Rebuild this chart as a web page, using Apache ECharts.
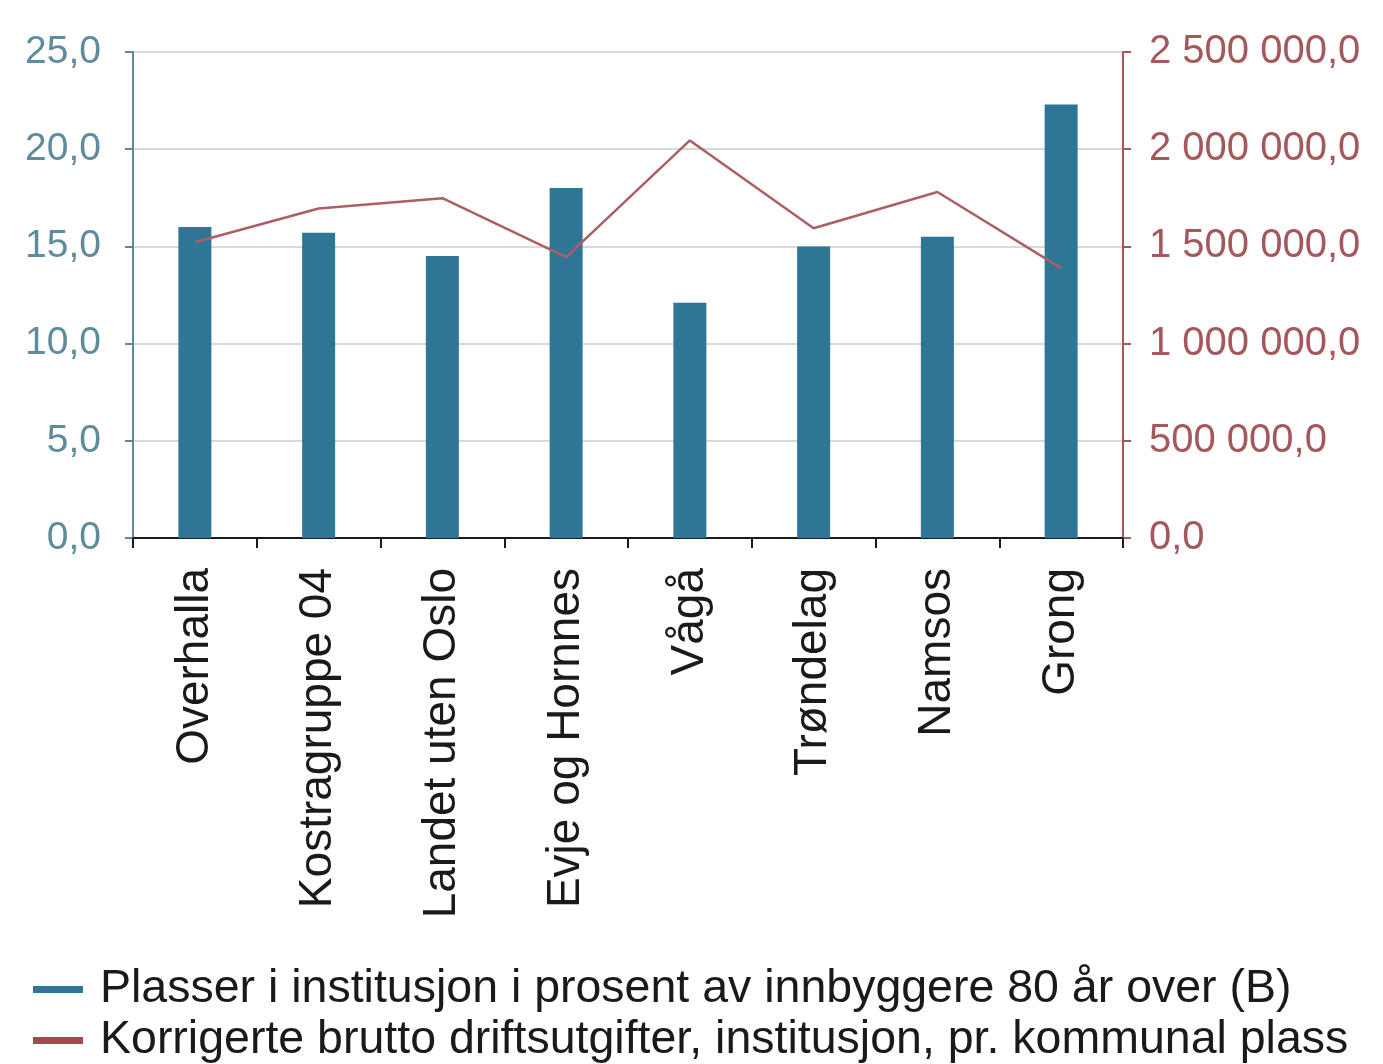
<!DOCTYPE html>
<html>
<head>
<meta charset="utf-8">
<script src="https://cdn.jsdelivr.net/npm/echarts@6/dist/echarts.min.js"></script>
<style>
html,body{margin:0;padding:0;background:#fff;}
#chart{width:1383px;height:1064px;}
</style>
</head>
<body>
<div id="chart"></div>
<script>
const categories = ['Overhalla','Kostragruppe 04','Landet uten Oslo','Evje og Hornnes','Vågå','Trøndelag','Namsos','Grong'];
const plasserValues = [16.0, 15.7, 14.5, 18.0, 12.1, 15.0, 15.5, 22.3];
const utgifterValues = [1521000, 1695000, 1748000, 1445000, 2045000, 1593000, 1780000, 1388000];
const seriesNames = ['Plasser i institusjon i prosent av innbyggere 80 år over (B)', 'Korrigerte brutto driftsutgifter, institusjon, pr. kommunal plass'];

function fmtLeft(v){ return v.toFixed(1).replace('.', ','); }
function fmtRight(v){
  const s = Math.round(v).toString().replace(/\B(?=(\d{3})+(?!\d))/g, ' ');
  return s + ',0';
}

const chart = echarts.init(document.getElementById('chart'), null, {renderer:'canvas'});
const font = 'Liberation Sans, Arial, sans-serif';
function legendAt(top, name, color){
  return {
    orient: 'horizontal',
    left: 28,
    top: top,
    itemWidth: 50,
    itemHeight: 7,
    icon: 'rect',
    textStyle: {fontSize: 46.5, color: '#1a1a1a', fontFamily: font, padding: [0,0,0,12]},
    data: [{name: name, itemStyle: {color: color}}]
  };
}
chart.setOption({
  animation: false,
  backgroundColor: '#ffffff',
  textStyle: {fontFamily: font},
  grid: {left: 133, right: 260, top: 52, bottom: 526, containLabel: false},
  legend: [
    legendAt(961, seriesNames[0], '#2E7596'),
    legendAt(1012, seriesNames[1], '#A4484C')
  ],
  xAxis: {
    type: 'category',
    data: categories,
    boundaryGap: true,
    axisLine: {lineStyle: {color: '#1a1a1a', width: 2}},
    axisTick: {show: true, length: 10, lineStyle: {color: '#1a1a1a', width: 2}},
    axisLabel: {rotate: 90, fontSize: 46, color: '#1a1a1a', margin: 30, fontFamily: font, interval: 0}
  },
  yAxis: [
    {
      type: 'value', min: 0, max: 25, interval: 5, position: 'left',
      axisLine: {show: true, lineStyle: {color: '#5A8A9C', width: 2}},
      axisTick: {show: true, length: 8, lineStyle: {color: '#5A8A9C', width: 2}},
      axisLabel: {formatter: fmtLeft, fontSize: 39, color: '#5E8C9C', margin: 32, fontFamily: font},
      splitLine: {show: true, lineStyle: {color: '#D9D9D9', width: 2}}
    },
    {
      type: 'value', min: 0, max: 2500000, interval: 500000, position: 'right',
      axisLine: {show: true, lineStyle: {color: '#A4585B', width: 2}},
      axisTick: {show: true, length: 8, lineStyle: {color: '#A4585B', width: 2}},
      axisLabel: {formatter: fmtRight, fontSize: 40, color: '#A4585B', margin: 26, fontFamily: font},
      splitLine: {show: false}
    }
  ],
  series: [
    {
      name: seriesNames[0], type: 'bar', yAxisIndex: 0, data: plasserValues,
      barWidth: 33, itemStyle: {color: '#2E7596'}
    },
    {
      name: seriesNames[1], type: 'line', yAxisIndex: 1, data: utgifterValues,
      showSymbol: false, symbol: 'none', lineStyle: {color: '#AC5F63', width: 2.5},
      itemStyle: {color: '#A4484C'}
    }
  ]
});
</script>
</body>
</html>
